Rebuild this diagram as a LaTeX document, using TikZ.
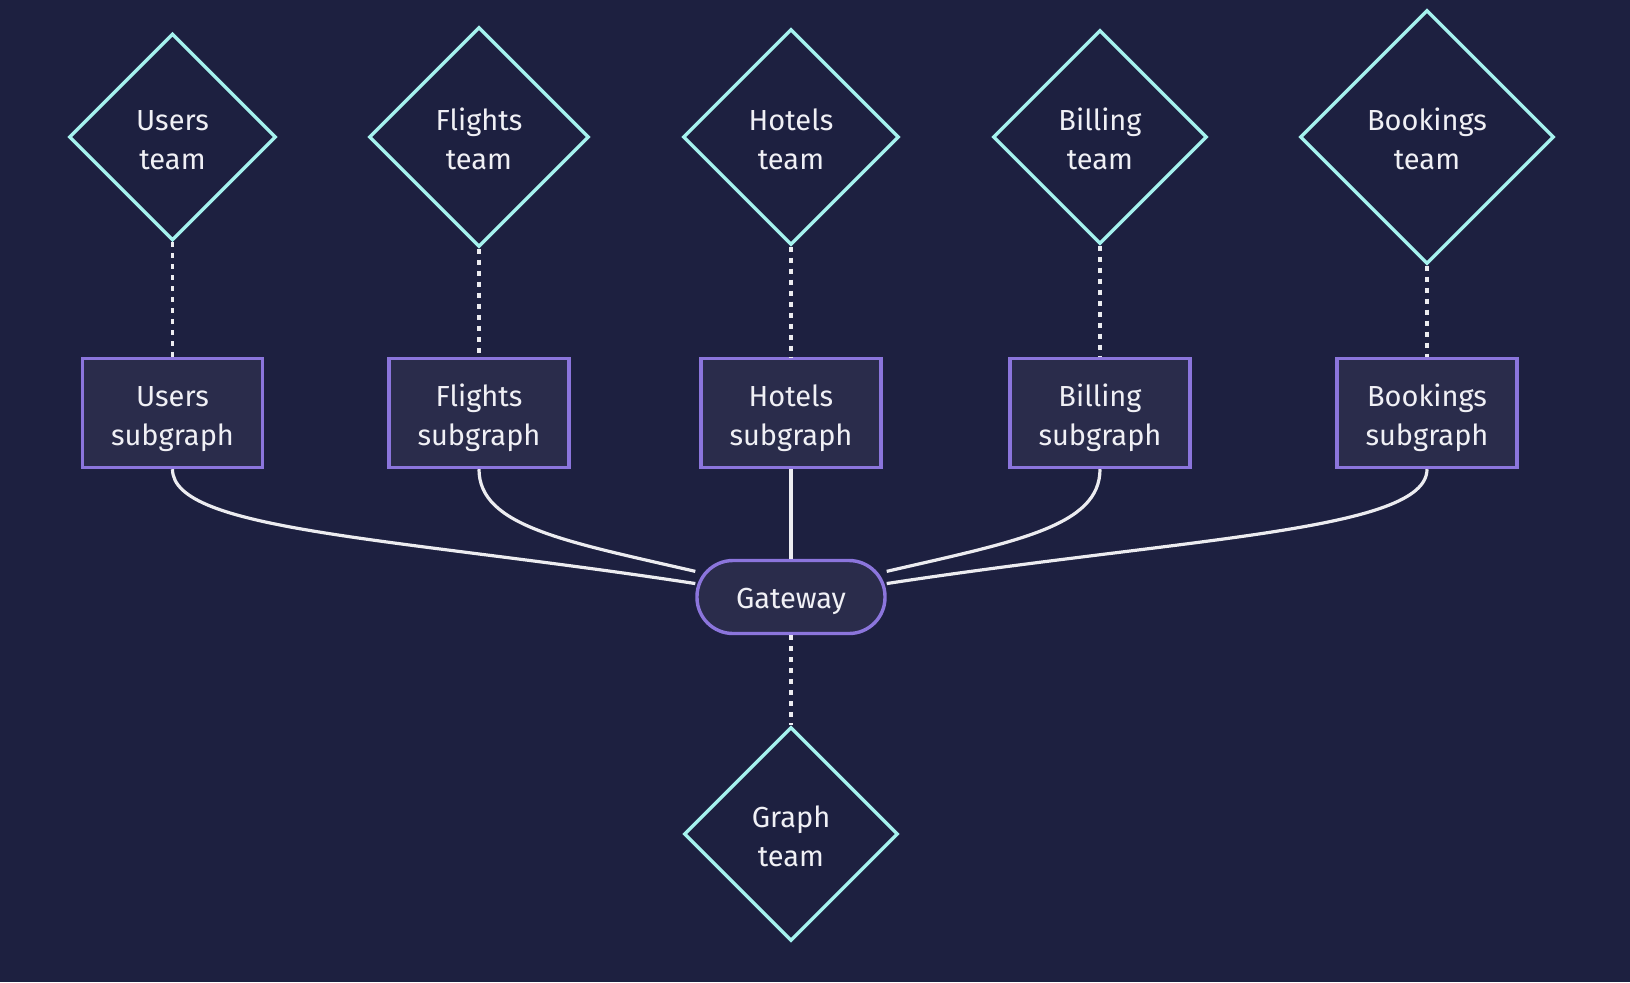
\documentclass[tikz,border=0pt]{standalone}
\usepackage{fontspec}
\setmainfont{Fira Sans}
\usepackage{tikz}
\usetikzlibrary{shapes.geometric, positioning}

\definecolor{bg}{HTML}{1D2040}
\definecolor{teamline}{HTML}{A5F2EE}
\definecolor{subline}{HTML}{8B75DC}
\definecolor{subfill}{HTML}{2A2C4B}
\definecolor{txt}{HTML}{F0F0F5}
\definecolor{linkc}{HTML}{ECECF0}

% text set a little lower than the node centre
\newcommand{\lowtxt}[2][2.6pt]{\raisebox{-#1}[\height][\depth]{%
  \begin{tabular}{@{}c@{}}#2\end{tabular}}}

\begin{document}
\begin{tikzpicture}[x=0.5pt,y=-0.5pt,node distance=138pt,
 team node/.style={diamond,draw=teamline,line width=1.7pt,fill=bg,text=txt,
   inner sep=0pt,font=\fontsize{14.5}{19.3}\selectfont},
 sub node/.style={rectangle,draw=subline,line width=1.7pt,fill=subfill,text=txt,
   minimum width=90pt,minimum height=54.5pt,
   font=\fontsize{14.5}{19.3}\selectfont},
 gate node/.style={rectangle,rounded corners=18pt,draw=subline,line width=1.7pt,
   fill=subfill,text=txt,minimum width=94pt,minimum height=36.5pt,
   font=\fontsize{14.5}{19.3}\selectfont},
 link/.style={draw=linkc,line width=1.6pt},
 dots/.style={draw=linkc,line width=1.7pt,dash pattern=on 2.5pt off 3pt}]

  \fill[bg] (0,0) rectangle (1630,982);
  \useasboundingbox (0,0) rectangle (1630,982);

  % teams
  \node[team node,minimum size=103.5pt] (ut) at (172.5,137) {\lowtxt{Users\\team}};
  \node[team node,minimum size=110pt] (ft) at (479,137) {\lowtxt{Flights\\team}};
  \node[team node,minimum size=108pt] (ht) at (791,137) {\lowtxt{Hotels\\team}};
  \node[team node,minimum size=107pt] (bt) at (1100,137) {\lowtxt{Billing\\team}};
  \node[team node,minimum size=127pt] (kt) at (1427,137) {\lowtxt{Bookings\\team}};

  % subgraphs
  \node[sub node] (us) [below of=ut] {\lowtxt{Users\\subgraph}};
  \node[sub node] (fs) [below of=ft] {\lowtxt{Flights\\subgraph}};
  \node[sub node] (hs) [below of=ht] {\lowtxt{Hotels\\subgraph}};
  \node[sub node] (bs) [below of=bt] {\lowtxt{Billing\\subgraph}};
  \node[sub node] (ks) [below of=kt] {\lowtxt{Bookings\\subgraph}};

  \node[gate node] (gw) [below of=hs,node distance=92pt] {\lowtxt[2pt]{Gateway}};
  \node[team node,minimum size=107pt] (gt) [below of=gw,node distance=118.5pt] {\lowtxt{Graph\\team}};

  \foreach \s/\t in {ut/us, ft/fs, ht/hs, bt/bs, kt/ks, gw/gt} {
   \path[dots] (\s.south) -- (\t.north);}

  \foreach \s/\a/\dy/\cx/\cy in {us/172/62/-300/-46, fs/165/57/-130/-30,
                                 bs/15/57/130/-30, ks/8/62/300/-46} {
   \path[link] (\s.south) .. controls +(0,\dy) and +(\cx,\cy) .. (gw.\a);}
  \path[link] (hs.south) -- (gw.north);

\end{tikzpicture}
\end{document}
